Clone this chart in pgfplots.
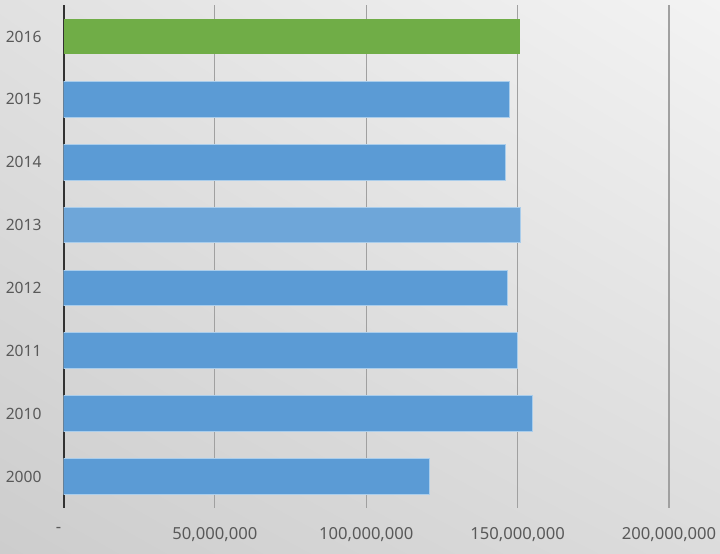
\documentclass[border=0pt]{standalone}
\usepackage{fontspec}
\setmainfont{Noto Sans}
\usepackage{pgfplots}
\pgfplotsset{compat=1.18}
\usetikzlibrary{shadings}
\definecolor{barblue}{RGB}{91,155,213}
\definecolor{barlight}{RGB}{110,166,217}
\definecolor{bargreen}{RGB}{112,173,71}
\definecolor{edgeblue}{RGB}{170,205,235}
\definecolor{txt}{RGB}{89,89,89}
\definecolor{gridc}{RGB}{160,160,160}
\definecolor{axc}{RGB}{50,50,50}
\definecolor{bgul}{RGB}{225,225,225}
\definecolor{bgur}{RGB}{243,243,243}
\definecolor{bgll}{RGB}{205,205,205}
\definecolor{bglr}{RGB}{220,220,220}
\begin{document}
\begin{tikzpicture}[x=1bp,y=1bp]
\useasboundingbox (0,0) rectangle (360,277);
\shade[upper left=bgul, upper right=bgur, lower left=bgll, lower right=bglr]
  (0,0) rectangle (360,277);
\begin{axis}[
  at={(31.75bp,23bp)}, anchor=south west,
  scale only axis, width=302.75bp, height=251.5bp,
  xmin=0, xmax=200000000, ymin=-0.5, ymax=7.5,
  axis lines=left, axis line style={-},
  x axis line style={draw=none},
  y axis line style={draw=axc, line width=1bp},
  major tick length=0pt,
  xtick={0,50000000,100000000,150000000,200000000},
  xticklabels={{\llap{-\kern1.2bp}},{50,000,000},{100,000,000},{150,000,000},{200,000,000}},
  ytick={0,1,2,3,4,5,6,7},
  yticklabels={2000,2010,2011,2012,2013,2014,2015,2016},
  xmajorgrids, grid style={draw=gridc, line width=0.6bp},
  scaled x ticks=false,
  ticklabel style={text=txt},
  xticklabel style={yshift=-6bp, font=\fontsize{8.3bp}{10bp}\selectfont},
  yticklabel style={xshift=-7.5bp, font=\fontsize{7.8bp}{10bp}\selectfont},
  xbar, bar width=0.57, bar shift=0pt,
]
\addplot[fill=barblue, draw=edgeblue, line width=0.5bp] coordinates {
  (121000000,0) (155000000,1) (150100000,2) (146800000,3) (146100000,5) (147400000,6)
};
\addplot[fill=barlight, draw=edgeblue, line width=0.5bp] coordinates {
  (151000000,4)
};
\addplot[fill=bargreen, draw=none] coordinates {
  (150800000,7)
};
\end{axis}
\end{tikzpicture}
\end{document}
